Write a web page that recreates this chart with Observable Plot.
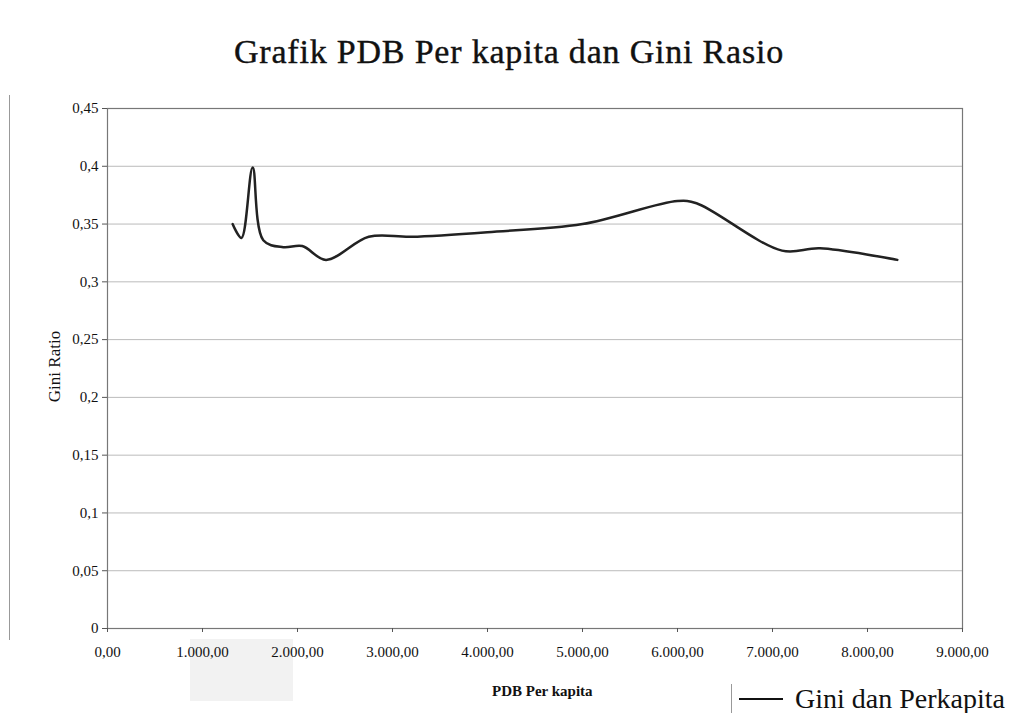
<!DOCTYPE html>
<html>
<head>
<meta charset="utf-8">
<script src="https://cdn.jsdelivr.net/npm/d3@7"></script>
<script src="https://cdn.jsdelivr.net/npm/@observablehq/plot@0.6"></script>
<style>
  body { margin: 0; background: #fff; }
  #wrap { position: relative; width: 1010px; height: 713px; overflow: hidden; background: #fff; font-family: "Liberation Serif", "DejaVu Serif", serif; }
  #wrap svg { position: absolute; left: 0; top: 0; z-index: 1; }
  .title { position: absolute; left: 0; width: 1010px; top: 33px; text-align: center; font-size: 34px; letter-spacing: 0.8px; color: #111; padding-left: 8px; box-sizing: border-box; -webkit-text-stroke: 0.4px #111; }
  .xtitle { position: absolute; left: 492px; top: 683px; font-size: 15px; font-weight: bold; color: #111; }
  .legend { position: absolute; left: 731px; top: 684px; height: 29px; border-left: 1px solid #999; padding-left: 7px; display: flex; align-items: center; font-size: 28px; color: #111; }
  .legend .swatch { width: 44px; height: 0; border-top: 2.5px solid #111; margin-right: 12px; }
  .edge { position: absolute; left: 9px; top: 95px; width: 1px; height: 545px; background: #999; }
  .patch { position: absolute; left: 190px; top: 639px; width: 103px; height: 62px; background: #f2f2f2; z-index: 0; }
</style>
</head>
<body>
<div id="wrap">
  <div class="edge"></div>
  <div class="patch"></div>
  <div class="title">Grafik PDB Per kapita dan Gini Rasio</div>
  <div class="xtitle">PDB Per kapita</div>
  <div class="legend"><span class="swatch"></span><span>Gini dan Perkapita</span></div>
</div>
<script>
// GDP per capita and the matching Gini ratio
const pdbPerKapita = [1317, 1410, 1528, 1640, 1850, 2050, 2300, 2750, 3200, 4000, 5000, 6000, 6200, 7100, 7500, 8314];
const giniRatio    = [0.350, 0.338, 0.399, 0.336, 0.330, 0.331, 0.319, 0.339, 0.339, 0.343, 0.350, 0.370, 0.368, 0.327, 0.329, 0.319];

// axis ticks
const xTicks = [0, 1000, 2000, 3000, 4000, 5000, 6000, 7000, 8000, 9000];
const yTicks = [0, 0.05, 0.1, 0.15, 0.2, 0.25, 0.3, 0.35, 0.4, 0.45];

const data = pdbPerKapita.map((x, i) => ({x, y: giniRatio[i]}));

const idLocale = d3.formatLocale({decimal: ",", thousands: ".", grouping: [3], currency: ["", ""]});
const fmtX = idLocale.format(",.2f");
const fmtY = d => String(d).replace(".", ",");

const chart = Plot.plot({
  width: 1010,
  height: 713,
  marginLeft: 107,
  marginRight: 48,
  marginTop: 108,
  marginBottom: 85,
  style: {fontFamily: "'Liberation Serif', 'DejaVu Serif', serif", background: "transparent", color: "#111"},
  x: {domain: [0, 9000]},
  y: {domain: [0, 0.45]},
  marks: [
    Plot.ruleY(yTicks.filter(d => d > 0), {stroke: "#bbb", strokeWidth: 1}),
    Plot.frame({stroke: "#777", strokeWidth: 1.2}),
    Plot.axisY({ticks: yTicks, tickFormat: fmtY, tickSize: 5, tickPadding: 4, fontSize: 15, label: null, stroke: "#555"}),
    Plot.axisX({ticks: xTicks, tickFormat: fmtX, tickSize: 4, tickPadding: 14, fontSize: 15, label: null, stroke: "#555"}),
    Plot.text(["Gini Ratio"], {frameAnchor: "left", textAnchor: "middle", dx: -53, dy: -2, rotate: -90, fontSize: 17, fill: "#111"}),
    Plot.line(data, {x: "x", y: "y", curve: "catmull-rom", stroke: "#222", strokeWidth: 2.5})
  ]
});

document.getElementById("wrap").prepend(chart);
</script>
</body>
</html>
